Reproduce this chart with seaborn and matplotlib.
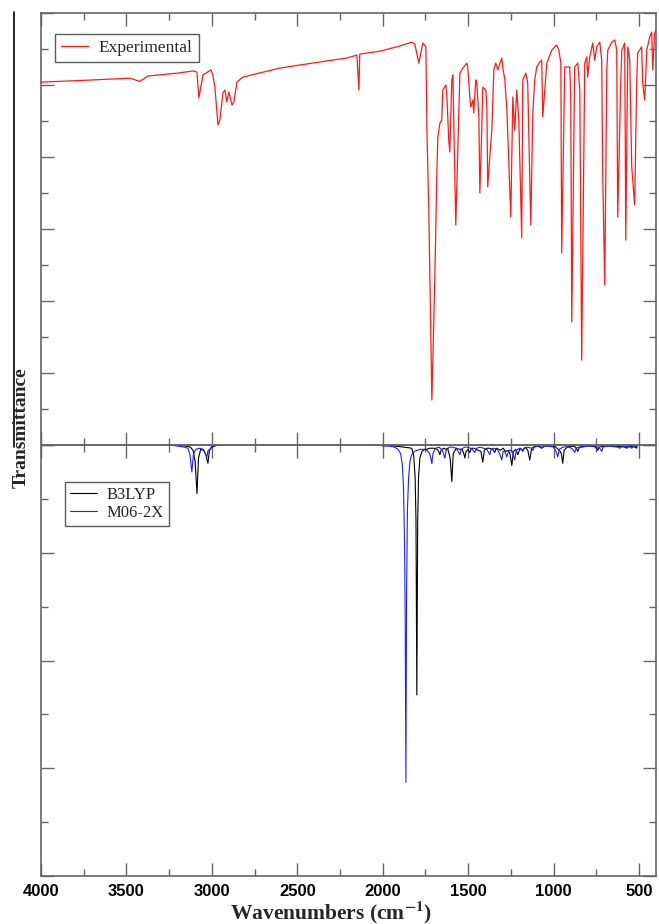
import numpy as np
import pandas as pd
import matplotlib
matplotlib.use("Agg")
import matplotlib.pyplot as plt
import seaborn as sns
from matplotlib.ticker import MultipleLocator, NullFormatter
from matplotlib.lines import Line2D

# ---------------- data ----------------
exp_wn = [4000, 3700, 3479, 3421, 3374, 3200, 3111, 3087, 3076, 3052, 3005, 2994, 2982, 2964, 2953,
          2935, 2923, 2912, 2900, 2882, 2871, 2853, 2818, 2602, 2409, 2210, 2151, 2139, 2134, 2016,
          1917, 1829, 1812, 1788, 1765, 1747, 1741, 1730, 1712, 1695, 1689, 1683, 1677, 1665, 1654,
          1648, 1630, 1624, 1613, 1607, 1595, 1589, 1572, 1548, 1531, 1507, 1502, 1490, 1484, 1472,
          1467, 1455, 1449, 1437, 1431, 1420, 1414, 1396, 1390, 1385, 1373, 1361, 1349, 1338, 1326,
          1303, 1297, 1285, 1273, 1250, 1238, 1227, 1215, 1203, 1186, 1180, 1162, 1151, 1133, 1121,
          1110, 1098, 1080, 1069, 1063, 1039, 1010, 981, 969, 957, 952, 934, 905, 899, 893,
          876, 858, 846, 835, 817, 805, 800, 788, 770, 759, 747, 729, 718, 712, 700,
          688, 682, 659, 641, 630, 624, 606, 600, 583, 577, 565, 554, 542, 525, 513,
          507, 484, 478, 466, 454, 437, 425, 419, 408, 400]
exp_T = [100.8, 101.4, 101.9, 101.0, 102.5, 103.3, 103.9, 103.6, 96.4, 102.8, 104.2, 102.8, 99.4, 88.9, 90.3,
         97.8, 98.6, 95.3, 98.1, 94.4, 95.3, 100.8, 102.2, 104.7, 106.1, 107.5, 108.3, 98.6, 108.6, 109.4,
         110.6, 111.9, 111.4, 106.1, 111.7, 110.6, 87.5, 65.3, 12.5, 45.8, 59.7, 75.6, 85.6, 89.4, 90.3,
         98.6, 100.0, 96.7, 84.7, 81.4, 101.4, 102.8, 61.1, 103.3, 104.7, 106.1, 105.0, 96.7, 93.9, 95.8,
         92.2, 101.4, 100.6, 91.1, 70.0, 87.5, 99.4, 98.6, 93.9, 71.7, 80.0, 87.5, 104.2, 106.1, 104.2,
         107.5, 105.0, 101.4, 93.1, 63.3, 96.7, 87.5, 98.6, 90.3, 57.5, 101.4, 103.3, 100.6, 61.1, 92.2,
         101.4, 105.0, 106.4, 106.9, 91.1, 106.1, 109.7, 111.1, 109.7, 106.1, 53.3, 105.0, 105.0, 96.7, 34.2,
         105.0, 106.1, 98.6, 23.6, 106.1, 107.8, 102.2, 107.8, 111.7, 106.9, 110.6, 111.9, 106.9, 75.6, 44.4,
         104.2, 109.7, 111.9, 112.5, 109.7, 63.3, 101.4, 109.7, 111.7, 56.9, 110.6, 106.9, 77.2, 66.7, 100.6,
         108.9, 110.6, 100.6, 95.8, 109.7, 113.3, 114.7, 104.2, 114.4, 115.3]

# B3LYP computed spectrum (two windows)
b3_wn_1 = [3250, 3200, 3150, 3125, 3110, 3098, 3087, 3078, 3065, 3048, 3035, 3023, 3014, 3000, 2975, 2950]
b3_I_1 = [0, 0.5, 1, 2, 5, 15, 45, 12, 4, 5, 9, 17, 5, 2, 0.5, 0]
b3_wn_2 = [2000, 1900, 1850, 1830, 1818, 1810, 1805, 1800, 1795, 1790, 1782, 1770, 1755, 1741, 1725, 1700,
           1680, 1672, 1665, 1658, 1645, 1630, 1620, 1605, 1595, 1587, 1570, 1550, 1535, 1525, 1519, 1512,
           1500, 1490, 1480, 1465, 1440, 1425, 1414, 1405, 1390, 1375, 1355, 1344, 1335, 1320, 1310, 1295,
           1280, 1265, 1255, 1244, 1235, 1220, 1209, 1195, 1180, 1165, 1150, 1139, 1128, 1110, 1090, 1069,
           1050, 1020, 990, 965, 954, 946, 938, 920, 890, 870, 858, 848, 820, 790, 760, 748,
           741, 734, 700, 650, 600, 580, 571, 560, 540, 520, 513, 510]
b3_I_2 = [0, 1.5, 2.5, 3, 10, 30, 70, 232, 70, 30, 12, 6, 4, 4, 3, 3,
          4, 6, 9, 5, 3, 4, 3, 12, 34, 8, 3, 4, 4, 8, 12, 6,
          4, 7, 3, 3, 5, 6, 16, 5, 3, 3, 4, 7, 3, 4, 5, 3,
          6, 5, 8, 19, 6, 4, 9, 3, 5, 2, 5, 14, 3, 1.5, 1, 3,
          1, 1, 1.5, 5, 8, 17, 5, 2, 1, 2, 6, 2, 1, 1, 1.5, 3,
          5, 2, 1, 1, 1.5, 2, 3, 1, 1.5, 2, 3, 0]

# M06-2X computed spectrum (two windows)
m06_wn_1 = [3250, 3200, 3160, 3140, 3128, 3117, 3108, 3095, 3070, 3050, 3038, 3029, 3022, 3012, 3000, 2975, 2950]
m06_I_1 = [0, 1, 2, 3, 9, 25, 9, 4, 3, 4, 8, 11, 5, 4, 1, 0.5, 0]
m06_wn_2 = [2000, 1960, 1930, 1910, 1895, 1885, 1878, 1872, 1868, 1864, 1860, 1855, 1848, 1840, 1830, 1815,
            1800, 1780, 1760, 1740, 1725, 1716, 1712, 1706, 1690, 1670, 1650, 1640, 1636, 1628, 1610, 1590,
            1570, 1555, 1548, 1540, 1520, 1500, 1475, 1461, 1450, 1430, 1410, 1390, 1380, 1373, 1365, 1350,
            1330, 1315, 1303, 1295, 1285, 1273, 1262, 1245, 1234, 1227, 1218, 1200, 1188, 1180, 1172, 1150,
            1130, 1121, 1112, 1090, 1060, 1030, 1000, 985, 975, 966, 945, 920, 895, 883, 876, 868,
            850, 830, 800, 770, 735, 725, 718, 710, 680, 650, 625, 612, 600, 570, 550, 542,
            530, 515, 510]
m06_I_2 = [1, 1, 2, 4, 8, 18, 40, 90, 160, 313, 140, 60, 30, 15, 9, 6,
           5, 4, 4, 5, 8, 14, 17, 8, 3, 2, 5, 10, 12, 5, 2, 2,
           3, 7, 9, 4, 2, 2, 4, 7, 3, 2, 3, 4, 7, 9, 4, 3,
           4, 8, 14, 6, 6, 11, 5, 5, 10, 14, 5, 3, 4, 6, 3, 2,
           3, 5, 2, 1, 1, 1, 2, 6, 11, 4, 2, 1.5, 3, 5, 7, 3,
           2, 2, 1, 1, 2, 4, 6, 2, 1, 1.5, 2, 3, 1.5, 1.5, 2, 3,
           1, 1.5, 0]

x_ticks = [4000, 3500, 3000, 2500, 2000, 1500, 1000, 500]
x_tick_labels = ["4000", "3500", "3000", "2500", "2000", "1500", "1000", "500"]

# ---------------- tables ----------------
exp_df = pd.DataFrame({"Wavenumber": exp_wn, "Transmittance": exp_T, "Spectrum": "Experimental"})
calc_df = pd.concat([
    pd.DataFrame({"Wavenumber": b3_wn_1, "Intensity": b3_I_1, "Method": "B3LYP", "seg": "b1"}),
    pd.DataFrame({"Wavenumber": b3_wn_2, "Intensity": b3_I_2, "Method": "B3LYP", "seg": "b2"}),
    pd.DataFrame({"Wavenumber": m06_wn_1, "Intensity": m06_I_1, "Method": "M06-2X", "seg": "m1"}),
    pd.DataFrame({"Wavenumber": m06_wn_2, "Intensity": m06_I_2, "Method": "M06-2X", "seg": "m2"}),
], ignore_index=True)

# ---------------- style ----------------
sns.set_theme(style="white")
plt.rcParams["font.family"] = ["Liberation Serif", "DejaVu Serif"]
plt.rcParams["mathtext.fontset"] = "stix"

fig = plt.figure(figsize=(6.59, 9.24), dpi=100)
W, H = 659, 924
ax1 = fig.add_axes([41 / W, 1 - 445 / H, 615 / W, 432 / H])
ax2 = fig.add_axes([41 / W, 1 - 876 / H, 615 / W, 431 / H])

sns.lineplot(data=exp_df, x="Wavenumber", y="Transmittance", hue="Spectrum",
             palette={"Experimental": "#ff1a1a"}, estimator=None, sort=False,
             linewidth=0.9, ax=ax1)
sns.lineplot(data=calc_df, x="Wavenumber", y="Intensity", hue="Method", units="seg",
             palette={"B3LYP": "#000000", "M06-2X": "#2020ff"}, estimator=None, sort=False,
             linewidth=0.8, ax=ax2)

ax1.set_xlim(4000, 400)
ax1.set_ylim(0, 120)
ax2.set_xlim(4000, 400)
ax2.set_ylim(400, 0)

spine_col = "#666666"
for ax in (ax1, ax2):
    ax.xaxis.set_major_locator(MultipleLocator(500))
    ax.xaxis.set_minor_locator(MultipleLocator(250))
    ax.tick_params(which="both", direction="in", top=True, bottom=True, left=True, right=True,
                   color=spine_col, width=1.0)
    ax.tick_params(which="major", length=9.5)
    ax.tick_params(which="minor", length=5)
    ax.yaxis.set_major_formatter(NullFormatter())
    ax.set_xlabel("")
    ax.set_ylabel("")
    for s in ax.spines.values():
        s.set_color(spine_col)
        s.set_linewidth(1.2)
    ax.set_facecolor("none")

ax1.yaxis.set_major_locator(MultipleLocator(20))
ax1.yaxis.set_minor_locator(MultipleLocator(10))
ax1.xaxis.set_major_formatter(NullFormatter())
ax2.yaxis.set_major_locator(MultipleLocator(100))
ax2.yaxis.set_minor_locator(MultipleLocator(50))
ax2.set_xticks(x_ticks)
ax2.set_xticklabels(x_tick_labels, fontfamily="Liberation Sans", fontweight="bold", fontsize=12)
ax2.tick_params(axis="x", which="major", pad=6, labelcolor="black")

# legends
leg1 = ax1.legend(loc="upper left", bbox_to_anchor=(0.022, 0.952), frameon=True, fancybox=False,
                  edgecolor="#333333", fontsize=12.5, handlelength=1.6, handletextpad=0.6,
                  borderpad=0.35, borderaxespad=0)
leg1.get_frame().set_linewidth(1.0)
leg2 = ax2.legend(loc="upper left", bbox_to_anchor=(0.039, 0.915), frameon=True, fancybox=False,
                  edgecolor="#333333", fontsize=12, handlelength=1.6, handletextpad=0.6,
                  borderpad=0.3, labelspacing=0.15, borderaxespad=0)
leg2.get_frame().set_linewidth(1.0)

# labels
fig.text(21 / W, 1 - 428 / H, "Transmittance", rotation=90, ha="center", va="center",
         fontsize=14, fontweight="bold")
fig.text(331 / W, 1 - 912 / H, r"Wavenumbers (cm$^{\mathbf{-1}}$)", ha="center", va="center",
         fontsize=15.5, fontweight="bold")

fig.add_artist(Line2D([14 / W, 14 / W], [1 - 12 / H, 1 - 447 / H], color="black", linewidth=1.2))

fig.savefig("out.png", dpi=100)
